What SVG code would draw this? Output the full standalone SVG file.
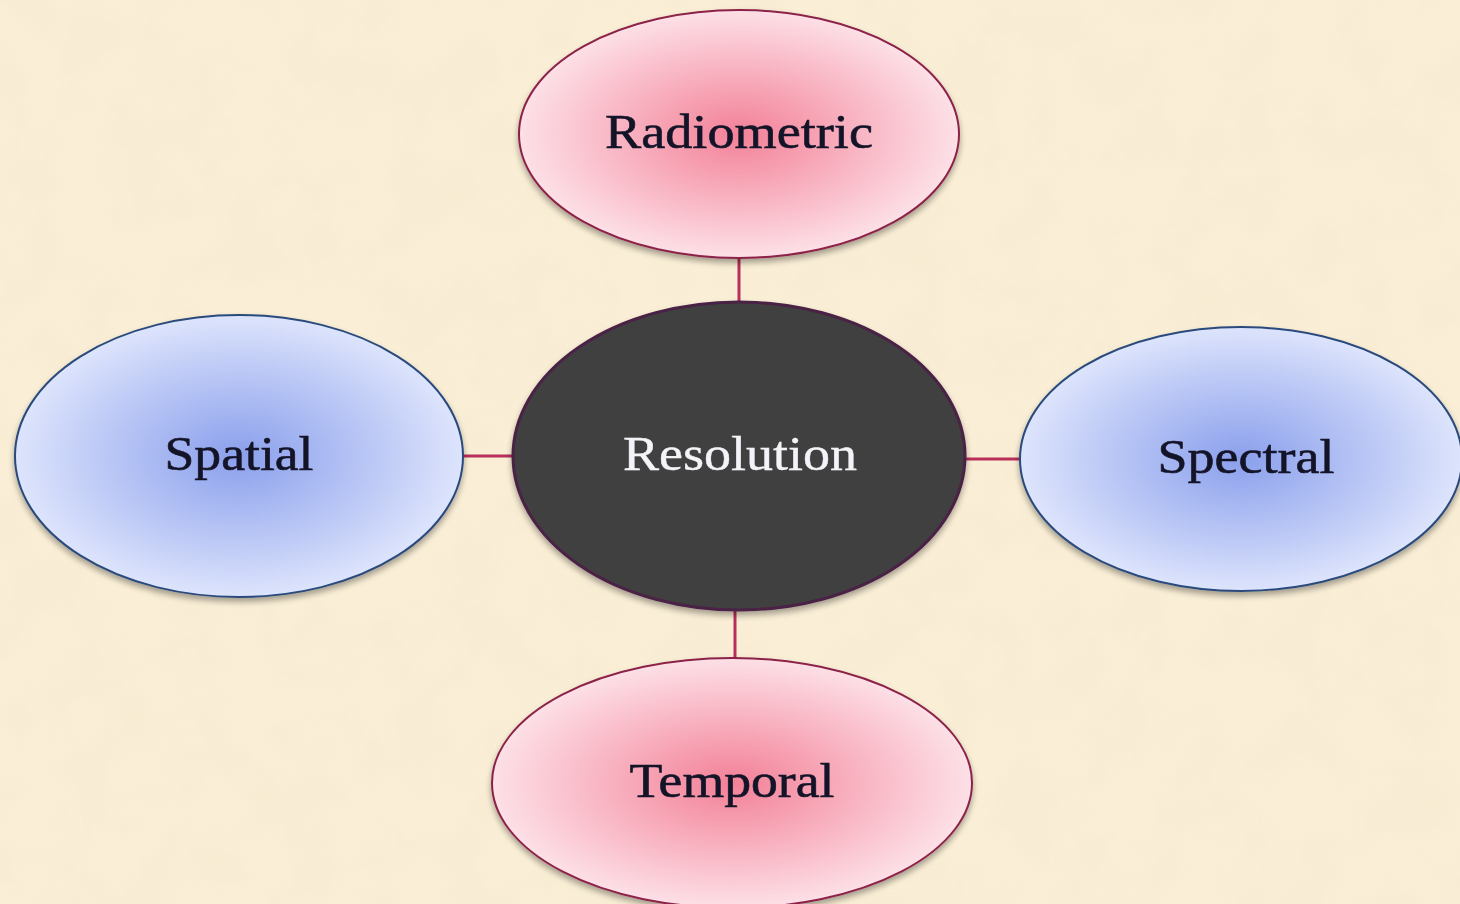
<svg xmlns="http://www.w3.org/2000/svg" width="1460" height="904" viewBox="0 0 1460 904">
  <style>
    .pink { fill: url(#gPink); stroke: #8c2348; stroke-width: 2; filter: url(#shadow); }
    .blue { fill: url(#gBlue); stroke: #2b4a7c; stroke-width: 2; filter: url(#shadow); }
    .core { fill: #404040; stroke: #4a2145; stroke-width: 3; filter: url(#shadow); }
    .lbl { font-family: "Liberation Serif", "DejaVu Serif", serif; font-size: 48px; fill: #141428; stroke: #141428; stroke-width: 0.6; text-anchor: middle; }
    .lblw { font-family: "Liberation Serif", "DejaVu Serif", serif; font-size: 48px; fill: #f4f4f8; stroke: #f4f4f8; stroke-width: 0.4; text-anchor: middle; }
    .conn line { stroke: #b8305a; stroke-width: 3; }
  </style>
  <defs>
    <radialGradient id="gPink" cx="50%" cy="50%" r="50%">
      <stop offset="0" stop-color="#f38198"/>
      <stop offset="0.5" stop-color="#f8b0bf"/>
      <stop offset="1" stop-color="#fde0e7"/>
    </radialGradient>
    <radialGradient id="gBlue" cx="50%" cy="50%" r="50%">
      <stop offset="0" stop-color="#8ba0ec"/>
      <stop offset="0.5" stop-color="#b3c1f4"/>
      <stop offset="1" stop-color="#dde4fc"/>
    </radialGradient>
    <filter id="shadow" x="-10%" y="-10%" width="120%" height="125%">
      <feGaussianBlur in="SourceAlpha" stdDeviation="3"/>
      <feOffset dx="0" dy="4" result="b"/>
      <feComponentTransfer><feFuncA type="linear" slope="0.35"/></feComponentTransfer>
      <feMerge><feMergeNode/><feMergeNode in="SourceGraphic"/></feMerge>
    </filter>
    <filter id="paper" x="0" y="0" width="100%" height="100%">
      <feTurbulence type="fractalNoise" baseFrequency="0.018" numOctaves="4" seed="7"/>
      <feColorMatrix type="matrix" values="0 0 0 0 0.92  0 0 0 0 0.82  0 0 0 0 0.64  0 0 0 1.6 -0.6"/>
    </filter>
  </defs>
  <rect width="1460" height="904" fill="#faefd6"/>
  <rect width="1460" height="904" filter="url(#paper)" opacity="0.75"/>

  <g id="connectors" class="conn">
    <line x1="739" y1="256" x2="739" y2="303"/>
    <line x1="462" y1="456" x2="514" y2="456"/>
    <line x1="964" y1="459" x2="1021" y2="459"/>
    <line x1="735" y1="609" x2="735" y2="659"/>
  </g>

  <g id="node-radiometric">
    <ellipse class="pink" cx="739" cy="134" rx="220" ry="124"/>
    <text class="lbl" x="739" y="148" textLength="268" lengthAdjust="spacingAndGlyphs">Radiometric</text>
  </g>
  <g id="node-spatial">
    <ellipse class="blue" cx="239" cy="456" rx="224" ry="141"/>
    <text class="lbl" x="239" y="470" textLength="149" lengthAdjust="spacingAndGlyphs">Spatial</text>
  </g>
  <g id="node-spectral">
    <ellipse class="blue" cx="1241" cy="459" rx="221" ry="132"/>
    <text class="lbl" x="1246" y="473" textLength="177" lengthAdjust="spacingAndGlyphs">Spectral</text>
  </g>
  <g id="node-temporal">
    <ellipse class="pink" cx="732" cy="783" rx="240" ry="125"/>
    <text class="lbl" x="732" y="797" textLength="205" lengthAdjust="spacingAndGlyphs">Temporal</text>
  </g>
  <g id="node-resolution">
    <ellipse class="core" cx="739" cy="456" rx="226" ry="154"/>
    <text class="lblw" x="740" y="470" textLength="234" lengthAdjust="spacingAndGlyphs">Resolution</text>
  </g>
</svg>
